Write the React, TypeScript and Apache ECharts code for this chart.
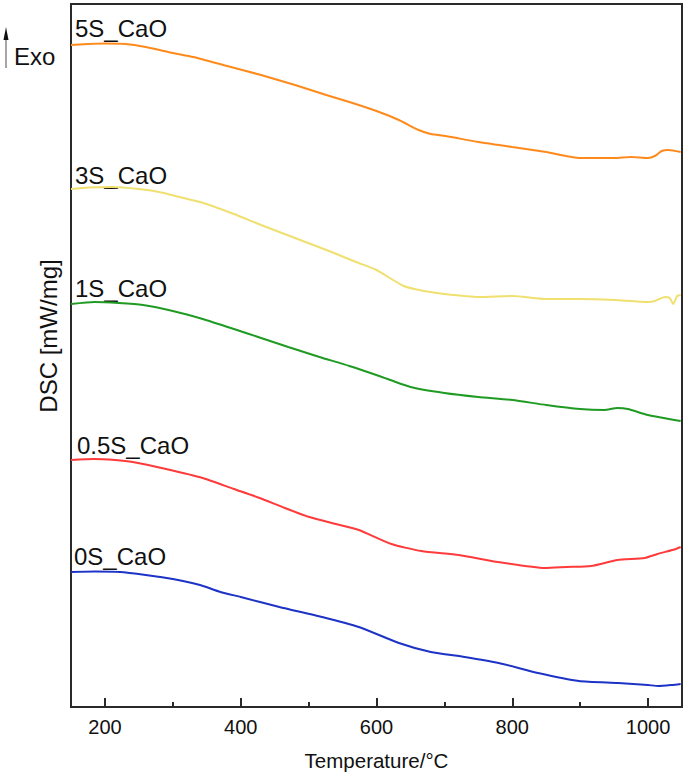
import React, { useEffect, useRef } from "react";
import * as echarts from "echarts";

// Temperatures (°C) and DSC signals (arbitrary offset units)
const t5S = [150, 175, 200, 230, 260, 300, 330, 380, 430, 480, 526, 560, 600, 633, 662, 680, 702, 750, 800, 850, 900, 950, 975, 1000, 1010, 1020, 1030, 1048];
const v5S = [662, 663, 663.5, 663, 660, 654, 650, 641, 632, 622, 612, 605, 596, 587, 577, 573, 571, 565, 560, 555, 549, 549, 550, 549, 551, 556, 557, 555];

const t3S = [150, 175, 210, 250, 280, 310, 345, 390, 430, 480, 530, 570, 600, 640, 670, 700, 750, 800, 850, 900, 950, 1000, 1010, 1025, 1032, 1037, 1043, 1048];
const v3S = [518, 519.5, 520, 518, 515, 510, 504, 493, 482, 469, 456, 445, 437, 421, 416, 413, 410, 411, 408, 408, 407, 405, 406, 410, 409, 403, 411, 412];

const t1S = [150, 185, 220, 256, 300, 344, 390, 430, 470, 516, 560, 604, 650, 700, 750, 800, 850, 900, 935, 955, 970, 1000, 1048];
const v1S = [403, 405, 404, 402, 396, 388, 378, 369, 360, 350, 341, 331, 320, 314, 310, 307, 302, 298, 297, 299, 298, 292, 286];

const t05S = [150, 183, 215, 241, 290, 344, 390, 428, 465, 501, 540, 574, 622, 666, 721, 779, 848, 880, 916, 955, 995, 1014, 1041, 1048];
const v05S = [247, 248, 247, 245, 238, 229, 218, 209, 199, 190, 183, 177, 163, 156, 152, 145, 139, 140, 141, 147, 149, 153, 158, 160];

const t0S = [150, 185, 222, 260, 300, 340, 370, 400, 457, 520, 574, 633, 680, 730, 780, 838, 898, 956, 1000, 1015, 1035, 1048];
const v0S = [135, 135.5, 135, 132, 128, 122, 115, 110, 100, 90, 80, 64, 55, 50, 44, 34, 26, 24, 22, 21, 22, 23];

const seriesNames = ["5S_CaO", "3S_CaO", "1S_CaO", "0.5S_CaO", "0S_CaO"];
const seriesColors = ["#ff8a1c", "#efe070", "#1f9a22", "#ff3a3a", "#1d33c6"];
const majorTicks = [200, 400, 600, 800, 1000];
const minorTicks = [300, 500, 700, 900];

const FONT = "'Liberation Sans', Arial, Helvetica, sans-serif";

function zip(t: number[], v: number[]) {
  return t.map((x, i) => [x, v[i]]);
}

export default function App() {
  const ref = useRef<HTMLDivElement>(null);
  useEffect(() => {
    if (!ref.current) return;
    const chart = echarts.init(ref.current, null, { renderer: "svg" });
    const dataSets = [zip(t5S, v5S), zip(t3S, v3S), zip(t1S, v1S), zip(t05S, v05S), zip(t0S, v0S)];
    const labelY = [27, 174, 287, 444, 555];
    const labelX = [75, 75, 75, 77, 74];
    chart.setOption({
      animation: false,
      backgroundColor: "#ffffff",
      grid: {
        left: 71,
        right: 3,
        top: 4,
        bottom: 69,
        show: true,
        borderColor: "#2a2a2a",
        borderWidth: 2,
        backgroundColor: "transparent",
      },
      xAxis: [
        {
          type: "value",
          min: 150,
          max: 1050,
          name: "Temperature/°C",
          nameLocation: "middle",
          nameGap: 43,
          nameTextStyle: { fontFamily: FONT, fontSize: 20.5, color: "#111" },
          axisLine: { show: true, lineStyle: { color: "#2a2a2a", width: 2 } },
          axisTick: { show: true, inside: true, length: 9, customValues: majorTicks, lineStyle: { color: "#2a2a2a", width: 2 } },
          axisLabel: {
            show: true,
            customValues: majorTicks,
            margin: 10,
            fontFamily: FONT,
            fontSize: 20,
            color: "#111",
            formatter: (v: number) => String(v),
          },
          splitLine: { show: false },
        },
        {
          type: "value",
          min: 150,
          max: 1050,
          position: "bottom",
          axisLine: { show: false },
          axisTick: { show: true, inside: true, length: 5, customValues: minorTicks, lineStyle: { color: "#2a2a2a", width: 2 } },
          axisLabel: { show: false },
          splitLine: { show: false },
        },
      ],
      yAxis: {
        type: "value",
        min: 0,
        max: 703,
        axisLine: { show: true, lineStyle: { color: "#2a2a2a", width: 2 } },
        axisTick: { show: false },
        axisLabel: { show: false },
        splitLine: { show: false },
      },
      series: dataSets.map((d, i) => ({
        type: "line",
        name: seriesNames[i],
        data: d,
        xAxisIndex: 0,
        smooth: 0.2,
        showSymbol: false,
        lineStyle: { color: seriesColors[i], width: 2 },
      })),
      graphic: [
        ...seriesNames.map((n, i) => ({
          type: "text",
          x: labelX[i],
          y: labelY[i] + 1,
          style: {
            text: n,
            fontFamily: FONT,
            fontSize: 24,
            fill: "#111",
            textAlign: "left",
            textVerticalAlign: "middle",
          },
        })),
        {
          type: "text",
          x: 14,
          y: 56,
          style: { text: "Exo", fontFamily: FONT, fontSize: 24, fill: "#111", textAlign: "left", textVerticalAlign: "middle" },
        },
        {
          type: "line",
          shape: { x1: 6, y1: 68, x2: 6, y2: 36 },
          style: { stroke: "#888", lineWidth: 1.5 },
        },
        {
          type: "polygon",
          shape: { points: [[3.5, 40], [8.5, 40], [6, 27]] },
          style: { fill: "#111" },
        },
        {
          type: "text",
          x: 48,
          y: 336,
          rotation: Math.PI / 2,
          style: { text: "DSC [mW/mg]", fontFamily: FONT, fontSize: 24, fill: "#111", textAlign: "center", textVerticalAlign: "middle" },
        },
      ],
    });
    return () => chart.dispose();
  }, []);
  return <div ref={ref} style={{ width: 685, height: 776, position: "absolute", left: 0, top: 0 }} />;
}
